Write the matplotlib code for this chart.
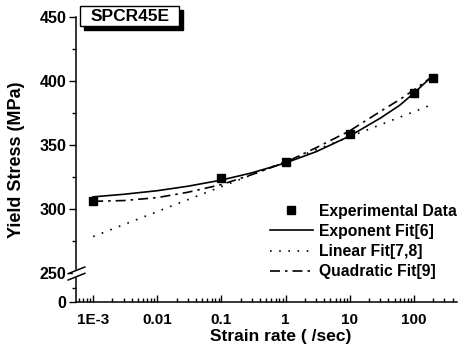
import numpy as np
import matplotlib
matplotlib.use("Agg")
import matplotlib.pyplot as plt
from matplotlib.path import Path
from matplotlib.patches import Rectangle
from matplotlib.ticker import FixedLocator, NullFormatter

plt.rcParams['font.family'] = ['Liberation Sans', 'DejaVu Sans']
plt.rcParams['font.weight'] = 'bold'

# experimental points
rate_exp = [1e-3, 0.1, 1, 10, 100, 200]
stress_exp = [306, 324, 336.5, 358.5, 391, 402]

# fitted curves
rate_fit = [1e-3, 3e-3, 1e-2, 3e-2, 0.1, 0.3, 1, 3, 10, 30, 60, 100, 200]
stress_expo = [309.5, 311.5, 314.3, 317.8, 322.6, 328.3, 336.0, 344.8, 357.0, 371.0, 381.0, 390.5, 404.5]
stress_quad = [306.0, 306.6, 308.9, 313.1, 319.1, 326.9, 336.5, 347.9, 361.1, 376.2, 385.5, 393.0, 404.0]
stress_lin = [278.5, 287.8, 298.0, 307.3, 317.5, 326.8, 337.0, 346.3, 356.5, 365.8, 371.7, 376.0, 382.0]

xticks = [1e-3, 1e-2, 1e-1, 1, 10, 100]
xticklabels = ["1E-3", "0.01", "0.1", "1", "10", "100"]
yticks = [0, 250, 300, 350, 400, 450]
yminor = [125, 275, 325, 375, 425]

brk = 250.0
k = 0.0906   # compression of the part below the break


def fwd(y):
    y = np.asarray(y, dtype=float)
    return np.where(y >= brk, y, brk - (brk - y) * k)


def inv(y):
    y = np.asarray(y, dtype=float)
    return np.where(y >= brk, y, brk - (brk - y) / k)


fig = plt.figure(figsize=(4.58, 3.51), dpi=100)
ax = fig.add_axes([76/458, 1-302/351, 381/458, 285/351])

ax.plot(rate_fit, stress_expo, color='k', lw=1.2, label="Exponent Fit[6]")
ax.plot(rate_fit, stress_lin, color='k', lw=1.2, ls=(0, (1, 4.5)), label="Linear Fit[7,8]")
ax.plot(rate_fit, stress_quad, color='k', lw=1.2, ls=(0, (6, 3, 1.5, 3)), label="Quadratic Fit[9]")
ax.plot(rate_exp, stress_exp, ls='none', marker='s', ms=5.5, color='k',
        label="Experimental Data", zorder=5)

ax.set_xscale('log')
ax.set_yscale('function', functions=(fwd, inv))
ax.set_xlim(5.4e-4, 470)
ax.set_ylim(0, 450)

ax.spines['top'].set_visible(False)
ax.spines['right'].set_visible(False)
for s in ['left', 'bottom']:
    ax.spines[s].set_linewidth(1.1)

ax.xaxis.set_major_locator(FixedLocator(xticks))
ax.set_xticklabels(xticklabels)
ax.yaxis.set_major_locator(FixedLocator(yticks))
ax.yaxis.set_minor_locator(FixedLocator(yminor))
ax.yaxis.set_minor_formatter(NullFormatter())
ax.tick_params(axis='x', which='major', direction='in', length=5, width=1, labelsize=11, pad=8)
ax.tick_params(axis='x', which='minor', direction='in', length=3, width=1)
ax.tick_params(axis='y', which='major', direction='out', length=5, width=1, labelsize=11.5, pad=2)
ax.tick_params(axis='y', which='minor', direction='out', length=3, width=1)

ax.set_xlabel("Strain rate ( /sec)", fontsize=12.5, fontweight='bold')
ax.set_ylabel("Yield Stress (MPa)", fontsize=13, fontweight='bold')
ax.xaxis.set_label_coords(0.538, -0.093)
ax.yaxis.set_label_coords(-0.133, 0.5)

# axis break marks
ytr = ax.get_yaxis_transform()
ax.plot([0], [brk], transform=ytr, marker='s', ms=4, mfc='white', mec='white',
        clip_on=False, zorder=6)
slash = Path([(-1, -0.75), (1, 0.05), (-1, -0.05), (1, 0.75)],
             [Path.MOVETO, Path.LINETO, Path.MOVETO, Path.LINETO])
ax.plot([0], [brk], transform=ytr, marker=slash, ms=13, mew=1.1, color='k',
        clip_on=False, zorder=7)

h, l = ax.get_legend_handles_labels()
idx = [3, 0, 1, 2]
ax.legend([h[i] for i in idx], [l[i] for i in idx], loc='lower right',
          bbox_to_anchor=(1.0, 0.08), frameon=False, fontsize=11.3,
          handlelength=2.75, handletextpad=0.4, labelspacing=0.33,
          borderpad=0, borderaxespad=0)

# sample name box with drop shadow
W, H = 458.0, 351.0
fig.patches.append(Rectangle((84/W, 1-30/H), 99/W, 20/H, transform=fig.transFigure,
                             fc='k', ec='k', lw=1, zorder=1))
fig.patches.append(Rectangle((80/W, 1-26/H), 99/W, 20/H, transform=fig.transFigure,
                             fc='white', ec='k', lw=1, zorder=2))
fig.text(91/W, 1-16.5/H, "SPCR45E", fontsize=12.5, fontweight='bold',
         va='center', ha='left', zorder=3)

fig.savefig("out.png", dpi=100)
